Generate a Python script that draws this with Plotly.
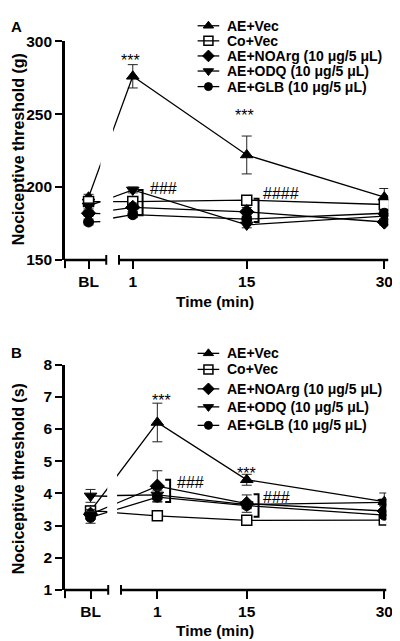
import plotly.graph_objects as go

# ---------------- data ----------------
categories = ["BL", "1", "15", "30"]
series_names = ["AE+Vec", "Co+Vec", "AE+NOArg (10 μg/5 μL)",
                "AE+ODQ (10 μg/5 μL)", "AE+GLB (10 μg/5 μL)"]

# Panel A: mechanical nociceptive threshold (g)
a_ae_vec = [193, 276, 222, 193]
a_ae_vec_err = [2, 8, 13, 6]
a_co_vec = [190, 190, 191, 188]
a_co_vec_err = [3, 3, 3, 3]
a_noarg = [182, 186, 183, 176]
a_noarg_err = [2, 3, 3, 2]
a_odq = [187, 198, 174, 180]
a_odq_err = [2, 2, 2, 2]
a_glb = [176, 181, 178, 182]
a_glb_err = [2, 2, 2, 2]

# Panel B: thermal nociceptive threshold (s)
b_ae_vec = [3.45, 6.2, 4.42, 3.74]
b_ae_vec_err = [0.15, 0.6, 0.17, 0.27]
b_co_vec = [3.45, 3.3, 3.16, 3.17]
b_co_vec_err = [0.1, 0.08, 0.08, 0.08]
b_noarg = [3.35, 4.22, 3.68, 3.45]
b_noarg_err = [0.15, 0.48, 0.27, 0.15]
b_odq = [3.92, 3.95, 3.65, 3.72]
b_odq_err = [0.2, 0.15, 0.1, 0.1]
b_glb = [3.25, 3.88, 3.62, 3.32]
b_glb_err = [0.18, 0.15, 0.1, 0.1]

a_ticks = [150, 200, 250, 300]
b_ticks = [1, 2, 3, 4, 5, 6, 7, 8]

# ---------------- layout helpers ----------------
W, H = 400, 641
FONT = "Liberation Sans"


def px(x):
    return x / W


def py(y):
    return 1 - y / H


# position of each category along the (broken) time axis
pos_A = [0, 45, 161, 301]
pos_B = [0, 68, 159, 299]

styles = [
    dict(symbol="triangle-up", size=11, color="black", line=dict(color="black", width=1)),
    dict(symbol="square", size=10, color="white", line=dict(color="black", width=1.5)),
    dict(symbol="diamond", size=11, color="black", line=dict(color="black", width=1)),
    dict(symbol="triangle-down", size=11, color="black", line=dict(color="black", width=1)),
    dict(symbol="circle", size=10, color="black", line=dict(color="black", width=1)),
]

panelA = [(a_ae_vec, a_ae_vec_err), (a_co_vec, a_co_vec_err), (a_noarg, a_noarg_err),
          (a_odq, a_odq_err), (a_glb, a_glb_err)]
panelB = [(b_ae_vec, b_ae_vec_err), (b_co_vec, b_co_vec_err), (b_noarg, b_noarg_err),
          (b_odq, b_odq_err), (b_glb, b_glb_err)]

fig = go.Figure()


def add_panel(data, pos, xaxes, yaxis):
    for xa in xaxes:
        for i, (vals, errs) in enumerate(data):
            fig.add_trace(go.Scatter(
                x=pos, y=vals, mode="lines+markers", xaxis=xa, yaxis=yaxis,
                line=dict(color="black", width=1.3), marker=styles[i],
                error_y=dict(type="data", array=errs, color="#222", thickness=1, width=5),
                showlegend=False, hoverinfo="skip", name=series_names[i]))


add_panel(panelA, pos_A, ["x", "x2"], "y")
add_panel(panelB, pos_B, ["x3", "x4"], "y2")

# legend drawn on a full-figure overlay axis
legend_rows_A = [9, 24.5, 40, 55.5, 71.5]
legend_rows_B = [345.5, 362, 382, 400.5, 419.5]
for rows in (legend_rows_A, legend_rows_B):
    for i, r in enumerate(rows):
        fig.add_trace(go.Scatter(x=[193, 215], y=[r, r], mode="lines", xaxis="x5", yaxis="y3",
                                 line=dict(color="black", width=1.3), showlegend=False,
                                 hoverinfo="skip"))
        st = dict(styles[i])
        st["size"] = st["size"] - 2
        if i == 1:
            st = dict(symbol="square-open", size=9, color="black", line=dict(color="black", width=1.5))
        fig.add_trace(go.Scatter(x=[204], y=[r], mode="markers", xaxis="x5", yaxis="y3",
                                 marker=st, showlegend=False, hoverinfo="skip"))
        fig.add_annotation(x=px(221), y=py(r), xref="paper", yref="paper", text=series_names[i],
                           showarrow=False, xanchor="left", yanchor="middle",
                           font=dict(family=FONT, size=14, color="black", weight="bold"))

tickfont = dict(family=FONT, size=15.5, color="black", weight="bold")
xcommon = dict(showgrid=False, zeroline=False, showline=False, ticks="outside", ticklen=8,
               tickwidth=2, tickcolor="black", tickfont=tickfont, fixedrange=True)
ycommon = dict(showgrid=False, zeroline=False, showline=True, linewidth=2.5, linecolor="black",
               ticks="outside", ticklen=7, tickwidth=2, tickcolor="black", tickfont=tickfont)

fig.update_layout(
    width=W, height=H, margin=dict(l=0, r=0, t=0, b=0),
    paper_bgcolor="white", plot_bgcolor="rgba(0,0,0,0)",
    xaxis=dict(domain=[px(58), px(94)], range=[58 - 82, 94 - 82], tickvals=pos_A[:1],
               ticktext=categories[:1], anchor="y", **xcommon),
    xaxis2=dict(domain=[px(107), px(387)], range=[107 - 82, 387 - 82], tickvals=pos_A[1:],
                ticktext=categories[1:], anchor="y", **xcommon),
    yaxis=dict(domain=[py(249.5), py(25)], range=[150, 300], tickvals=a_ticks, anchor="x",
               **ycommon),
    xaxis3=dict(domain=[px(58), px(101)], range=[58 - 84, 101 - 84], tickvals=pos_B[:1],
                ticktext=categories[:1], anchor="y2", **xcommon),
    xaxis4=dict(domain=[px(111), px(385)], range=[111 - 84, 385 - 84], tickvals=pos_B[1:],
                ticktext=categories[1:], anchor="y2", **xcommon),
    yaxis2=dict(domain=[py(588.5), py(357)], range=[1, 8], tickvals=b_ticks, anchor="x3",
                **ycommon),
    xaxis5=dict(domain=[0, 1], range=[0, W], visible=False, anchor="y3"),
    yaxis3=dict(domain=[0, 1], range=[H, 0], visible=False, anchor="x5"),
)

# broken x-axis lines and caps
shapes = []


def seg(x0, y0, x1, y1, w):
    shapes.append(dict(type="line", xref="paper", yref="paper", x0=px(x0), y0=py(y0),
                       x1=px(x1), y1=py(y1), line=dict(color="black", width=w)))


for (yax, s1, s2a, s2b) in [(249.5, 100, 113, 387), (588.5, 102, 115, 385)]:
    seg(57, yax, s1, yax, 2.5)
    seg(s2a, yax, s2b, yax, 2.5)
    seg(s1, yax - 5, s1, yax + 5, 2)
    seg(s2a, yax - 5, s2a, yax + 5, 2)
    seg(58, yax, 58, yax + 8.5, 2)


def bracket(xref, yref, x, y0, y1):
    shapes.append(dict(type="path", xref=xref, yref=yref,
                       path=f"M {x-5},{y0} L {x},{y0} L {x},{y1} L {x-5},{y1}",
                       line=dict(color="black", width=2)))


bracket("x2", "y", pos_A[1] + 10, 198, 180.7)
bracket("x2", "y", pos_A[2] + 12, 192, 176)
bracket("x4", "y2", pos_B[1] + 13, 4.42, 3.73)
bracket("x4", "y2", pos_B[2] + 12, 3.97, 3.27)
fig.update_layout(shapes=shapes)

reg = dict(family=FONT, size=16, color="black")
bold = dict(family=FONT, size=16, color="black", weight="bold")
xtitle = dict(family=FONT, size=15.5, color="black", weight="bold")


def note(text, x, y, xref, yref, font, xanchor="center", angle=0):
    fig.add_annotation(x=x, y=y, xref=xref, yref=yref, text=text, showarrow=False,
                       xanchor=xanchor, yanchor="middle", font=font, textangle=angle)


# significance marks
note("***", pos_A[1] - 2, 287, "x2", "y", reg)
note("***", pos_A[2] - 2, 249, "x2", "y", reg)
note("###", pos_A[1] + 15, 198.7, "x2", "y", reg, "left")
note("####", pos_A[2] + 14, 195.3, "x2", "y", reg, "left")
note("***", pos_B[1] + 4, 6.89, "x4", "y2", reg)
note("***", pos_B[2], 4.62, "x4", "y2", reg)
note("###", pos_B[1] + 18, 4.33, "x4", "y2", reg, "left")
note("###", pos_B[2] + 15, 3.88, "x4", "y2", reg, "left")

# titles and panel letters
note("A", px(9), py(10), "paper", "paper", dict(family=FONT, size=15, color="black", weight="bold"))
note("B", px(9), py(345), "paper", "paper", dict(family=FONT, size=15, color="black", weight="bold"))
note("Nociceptive threshold (g)", px(11), py(136), "paper", "paper", bold, angle=-90)
note("Nociceptive threshold (s)", px(11), py(474), "paper", "paper", bold, angle=-90)
note("Time (min)", px(211), py(292), "paper", "paper", xtitle)
note("Time (min)", px(211), py(630), "paper", "paper", xtitle)

fig.write_html("out.html")
